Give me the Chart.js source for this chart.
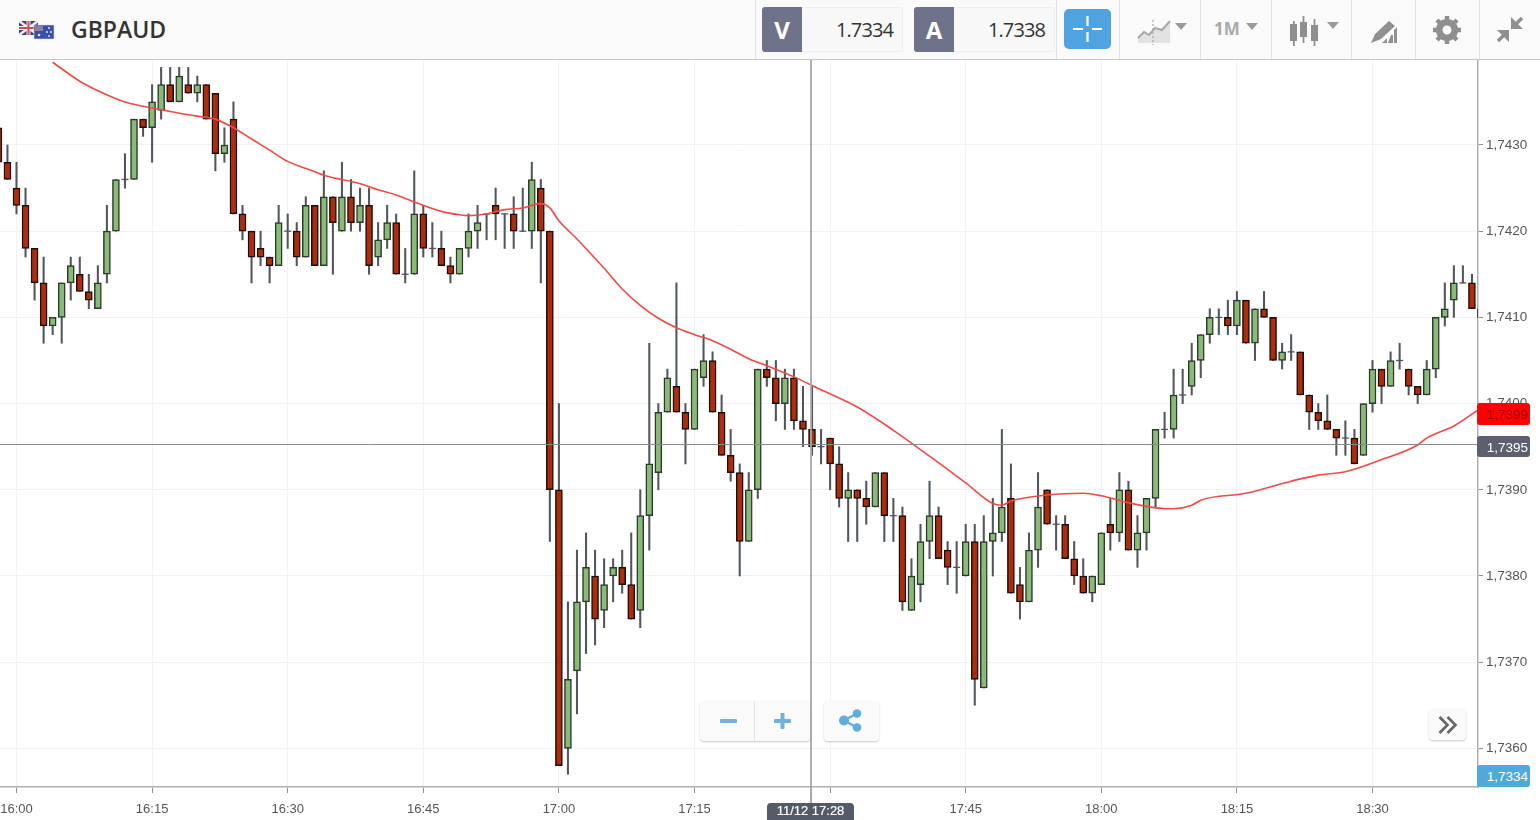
<!DOCTYPE html>
<html><head><meta charset="utf-8">
<script src="https://cdn.jsdelivr.net/npm/chart.js@4"></script>
<style>
html,body{margin:0;padding:0;width:1540px;height:820px;overflow:hidden;background:#fff;font-family:"Liberation Sans",Arial,sans-serif}
#bar{position:absolute;left:0;top:0;width:1540px;height:59px;background:#fafafa;border-bottom:1px solid #c8c8c8}
canvas{position:absolute;left:0;top:60px}
.abs{position:absolute}
.sep{position:absolute;top:0;width:1px;height:59px;background:#e4e4e4}
.letter{position:absolute;top:7px;width:40px;height:45px;background:#6e7389;color:#fff;font:bold 24px "Open Sans";text-align:center;line-height:45px;border-radius:3px 0 0 3px}
.val{position:absolute;top:7px;width:100px;height:43px;background:#f8f8f8;border:1px solid #eeeeee;border-left:0;border-radius:0 3px 3px 0;color:#333;font:20px "Open Sans";letter-spacing:-.9px;text-align:right;line-height:43px}
.tag{position:absolute;left:1477px;width:53px;font:13.5px "Liberation Sans";text-align:right;border-radius:3px;padding-right:0}
.tag span{position:relative;right:2px}
.btn{position:absolute;background:#fafafa;border-radius:4px;box-shadow:0 1px 2px rgba(0,0,0,.22)}
</style></head><body>
<div id="bar">
<svg class="abs" style="left:17px;top:19px" width="40" height="23" viewBox="0 0 40 23">
<rect x="2" y="2" width="19" height="14" fill="#39407c"/><path d="M2 2L21 16M21 2L2 16" stroke="#eee" stroke-width="2.6"/><path d="M11.5 2V16M2 9H21" stroke="#eee" stroke-width="4"/><path d="M11.5 2V16M2 9H21" stroke="#cf4a5a" stroke-width="2"/>
<rect x="17" y="6" width="20" height="14" fill="#3a4fa8" stroke="#d8dbe8" stroke-width=".6"/><path d="M18 7h8v5h-8z" fill="#8d7f9f"/><g fill="#e8ecf8"><circle cx="22" cy="16" r="1.3"/><circle cx="32" cy="9" r=".9"/><circle cx="34" cy="13" r=".9"/><circle cx="30" cy="13" r=".9"/><circle cx="32" cy="17" r=".9"/></g></svg>
<div class="abs" style="left:71px;top:13px;font:600 23px 'Open Sans';color:#333;line-height:32px">GBPAUD</div>
<div class="sep" style="left:755px"></div>
<div class="letter" style="left:762px">V</div><div class="val" style="left:802px"><span style="margin-right:9px">1.7334</span></div>
<div class="letter" style="left:914px">A</div><div class="val" style="left:954px"><span style="margin-right:9px">1.7338</span></div>
<div class="sep" style="left:1056px"></div>
<svg class="abs" style="left:1064px;top:9px" width="47" height="40"><rect width="47" height="40" rx="5" fill="#4fa3e0"/><path d="M23.5 7v10M23.5 23v10M9 20h10M28 20h10" stroke="#fff" stroke-width="2.2"/></svg>
<div class="sep" style="left:1119px"></div>
<svg class="abs" style="left:1135px;top:16px" width="56" height="30"><path d="M3 21l6-5 5 3 6-6 7 2 8-9v21H3z" fill="#e2e2e2"/><path d="M3 22l6-6 5 3 6-7 7 2 8-9" stroke="#a8a8a8" fill="none" stroke-width="2"/><path d="M18 4v25" stroke="#999" stroke-dasharray="2 2"/><path d="M40 7h12l-6 7z" fill="#9a9a9a"/></svg>
<div class="sep" style="left:1200px"></div>
<div class="abs" style="left:1214px;top:17px;font:bold 17px 'Open Sans';color:#aaa;line-height:24px">1M</div>
<svg class="abs" style="left:1245px;top:22px" width="14" height="9"><path d="M1 1h12l-6 7z" fill="#9a9a9a"/></svg>
<div class="sep" style="left:1271px"></div>
<svg class="abs" style="left:1288px;top:15px" width="54" height="32" fill="#8f8f8f"><rect x="2" y="9" width="7" height="17"/><rect x="5" y="6" width="1.8" height="25"/><rect x="12" y="7" width="7" height="15"/><rect x="14.6" y="1" width="1.8" height="27"/><rect x="23" y="10" width="7" height="16"/><rect x="25.6" y="4" width="1.8" height="27"/><path d="M39 7h12l-6 7z" fill="#9a9a9a"/></svg>
<div class="sep" style="left:1351px"></div>
<svg class="abs" style="left:1370px;top:19px" width="28" height="26" fill="#909090"><path d="M1 24l4-9L19 2l6 5L11 20z"/><path d="M12 24l5-5v5zM18 24l3-8 2 0v8zM24 24v-13l3-3v16z"/></svg>
<div class="sep" style="left:1415px"></div>
<svg class="abs" style="left:1433px;top:16px" width="28" height="28"><circle cx="14" cy="14" r="7.8" fill="none" stroke="#8f8f8f" stroke-width="6.6"/><path d="M14 0v5M14 23v5M0 14h5M23 14h5M4 4l4 4M20 20l4 4M24 4l-4 4M8 20l-4 4" stroke="#8f8f8f" stroke-width="4.4"/></svg>
<div class="sep" style="left:1479px"></div>
<svg class="abs" style="left:1495px;top:15px" width="30" height="30" fill="#8f8f8f" stroke-width="3.4" stroke="#8f8f8f"><path d="M16 2V14H28Z" stroke="none"/><path d="M20 10L27 3"/><path d="M14 15V27L2 15Z" stroke="none"/><path d="M10 19L3 26"/></svg>
</div>
<canvas id="c" width="1540" height="760"></canvas>
<div class="abs" style="left:810px;top:787px;width:2px;height:17px;background:#a8a8a8"></div>
<div class="btn" style="left:700px;top:701px;width:110px;height:40px"></div>
<div class="abs" style="left:754px;top:701px;width:1px;height:40px;background:#e2e2e2"></div>
<svg class="abs" style="left:719px;top:711px" width="72" height="20" fill="#6fb3dc"><rect x="1" y="8" width="17" height="4" rx="1"/><rect x="55" y="8" width="17" height="4" rx="1"/><rect x="61.5" y="2" width="4" height="16" rx="1"/></svg>
<div class="btn" style="left:824px;top:701px;width:55px;height:40px"></div>
<svg class="abs" style="left:838px;top:708px" width="26" height="25" fill="#5faedb"><circle cx="6" cy="12.5" r="5"/><circle cx="19" cy="5.5" r="4.3"/><circle cx="19" cy="19.5" r="4.3"/><path d="M6 12.5L19 5.5M6 12.5L19 19.5" stroke="#5faedb" stroke-width="2"/></svg>
<div class="btn" style="left:1429px;top:709px;width:37px;height:31px"></div>
<svg class="abs" style="left:1438px;top:715px" width="20" height="20" fill="none" stroke="#666" stroke-width="2.6"><path d="M1.5 2l8 8-8 8M9.5 2l8 8-8 8"/></svg>
<div class="tag" style="top:403px;height:22px;line-height:23px;background:#ff0000;color:#a00000"><span>1,7399</span></div>
<div class="tag" style="top:436px;height:21px;line-height:24px;background:#5b5f6e;color:#fff"><span>1,7395</span></div>
<div class="tag" style="top:765px;height:22px;line-height:24px;background:#4faad9;color:#fff"><span>1,7334</span></div>
<div class="abs" style="left:767px;top:803px;width:87px;height:17px;line-height:18px;background:#555a68;color:#fff;font:13px 'Liberation Sans';text-align:center;border-radius:4px 4px 0 0;-webkit-text-stroke:.2px #fff">11/12 17:28</div>
<script>
const firstMinute = -2;
const opens = [1.7432,1.7428,1.7425,1.7423,1.7418,1.7414,1.7409,1.7410,1.7414,1.7415,1.7413,1.7411,1.7415,1.7420,1.7426,1.7426,1.7433,1.7432,1.7434,1.7437,1.7435,1.7437,1.7436,1.7437,1.7436,1.7429,1.7433,1.7422,1.7420,1.7418,1.7417,1.7416,1.7420,1.7420,1.7417,1.7423,1.7416,1.7424,1.7420,1.7424,1.7421,1.7423,1.7417,1.7419,1.7421,1.7415,1.7415,1.7422,1.7418,1.7418,1.7416,1.7415,1.7418,1.7420,1.7422,1.7423,1.7422,1.7422,1.7420,1.7420,1.7425,1.7420,1.7390,1.7360,1.7369,1.7377,1.7380,1.7376,1.7380,1.7381,1.7379,1.7376,1.7387,1.7392,1.7399,1.7402,1.7399,1.7397,1.7403,1.7405,1.7399,1.7394,1.7392,1.7384,1.7390,1.7404,1.7403,1.7400,1.7403,1.7398,1.7397,1.7395,1.7396,1.7393,1.7389,1.7390,1.7389,1.7388,1.7392,1.7387,1.7387,1.7376,1.7379,1.7384,1.7387,1.7383,1.7381,1.7380,1.7384,1.7367,1.7384,1.7385,1.7389,1.7379,1.7377,1.7383,1.7390,1.7386,1.7386,1.7382,1.7380,1.7378,1.7379,1.7386,1.7385,1.7390,1.7383,1.7385,1.7389,1.7397,1.7397,1.7401,1.7402,1.7405,1.7408,1.7410,1.7410,1.7409,1.7412,1.7407,1.7411,1.7410,1.7405,1.7406,1.7406,1.7401,1.7399,1.7398,1.7397,1.7396,1.7396,1.7394,1.7400,1.7404,1.7402,1.7405,1.7404,1.7402,1.7401,1.7404,1.7410,1.7412,1.7414,1.7414,1.7411];
const highs = [1.7432,1.7430,1.7428,1.7425,1.7418,1.7417,1.7410,1.7414,1.7417,1.7417,1.7415,1.7416,1.7423,1.7426,1.7429,1.7433,1.7433,1.7437,1.7439,1.7439,1.7439,1.7439,1.7438,1.7437,1.7436,1.7432,1.7435,1.7423,1.7420,1.7420,1.7417,1.7423,1.7422,1.7421,1.7424,1.7423,1.7427,1.7424,1.7428,1.7426,1.7425,1.7425,1.7421,1.7423,1.7422,1.7418,1.7427,1.7423,1.7421,1.7420,1.7417,1.7418,1.7422,1.7423,1.7422,1.7425,1.7422,1.7424,1.7425,1.7428,1.7426,1.7420,1.7400,1.7377,1.7383,1.7385,1.7383,1.7382,1.7382,1.7383,1.7385,1.7390,1.7407,1.7400,1.7404,1.7414,1.7400,1.7404,1.7408,1.7406,1.7401,1.7397,1.7393,1.7392,1.7404,1.7405,1.7405,1.7404,1.7404,1.7402,1.7402,1.7397,1.7396,1.7395,1.7392,1.7390,1.7391,1.7392,1.7392,1.7389,1.7388,1.7382,1.7386,1.7391,1.7388,1.7384,1.7384,1.7386,1.7386,1.7387,1.7389,1.7397,1.7393,1.7381,1.7385,1.7392,1.7390,1.7387,1.7387,1.7384,1.7382,1.7380,1.7385,1.7389,1.7392,1.7391,1.7387,1.7389,1.7397,1.7399,1.7404,1.7404,1.7407,1.7408,1.7411,1.7411,1.7412,1.7413,1.7412,1.7411,1.7413,1.7410,1.7407,1.7408,1.7406,1.7401,1.7400,1.7401,1.7397,1.7398,1.7397,1.7400,1.7405,1.7404,1.7406,1.7407,1.7404,1.7402,1.7405,1.7410,1.7414,1.7416,1.7416,1.7415,1.7411];
const lows = [1.7428,1.7426,1.7422,1.7417,1.7412,1.7407,1.7408,1.7407,1.7412,1.7413,1.7411,1.7411,1.7414,1.7420,1.7425,1.7426,1.7431,1.7428,1.7433,1.7435,1.7435,1.7436,1.7435,1.7433,1.7427,1.7428,1.7422,1.7419,1.7414,1.7416,1.7414,1.7416,1.7418,1.7416,1.7417,1.7416,1.7416,1.7415,1.7420,1.7420,1.7420,1.7415,1.7416,1.7418,1.7415,1.7414,1.7415,1.7417,1.7417,1.7416,1.7414,1.7415,1.7417,1.7418,1.7419,1.7419,1.7418,1.7418,1.7420,1.7418,1.7414,1.7384,1.7358,1.7357,1.7364,1.7371,1.7372,1.7374,1.7377,1.7378,1.7375,1.7374,1.7383,1.7390,1.7399,1.7399,1.7393,1.7397,1.7402,1.7399,1.7394,1.7391,1.7380,1.7384,1.7389,1.7402,1.7398,1.7397,1.7397,1.7395,1.7394,1.7393,1.7390,1.7388,1.7384,1.7384,1.7386,1.7388,1.7384,1.7384,1.7376,1.7376,1.7377,1.7382,1.7382,1.7379,1.7378,1.7380,1.7365,1.7367,1.7380,1.7384,1.7378,1.7375,1.7377,1.7381,1.7386,1.7383,1.7382,1.7379,1.7378,1.7377,1.7379,1.7383,1.7384,1.7383,1.7381,1.7383,1.7388,1.7396,1.7396,1.7400,1.7401,1.7403,1.7407,1.7408,1.7408,1.7408,1.7407,1.7405,1.7410,1.7405,1.7404,1.7405,1.7401,1.7397,1.7397,1.7397,1.7394,1.7394,1.7393,1.7394,1.7399,1.7400,1.7402,1.7404,1.7401,1.7400,1.7401,1.7403,1.7409,1.7410,1.7414,1.7411,1.7409];
const closes = [1.7428,1.7426,1.7423,1.7418,1.7414,1.7409,1.7410,1.7414,1.7416,1.7413,1.7412,1.7414,1.7420,1.7426,1.7426,1.7433,1.7432,1.7435,1.7437,1.7435,1.7438,1.7436,1.7437,1.7433,1.7429,1.7430,1.7422,1.7420,1.7417,1.7417,1.7416,1.7421,1.7420,1.7417,1.7423,1.7416,1.7424,1.7421,1.7424,1.7421,1.7423,1.7416,1.7419,1.7421,1.7415,1.7415,1.7422,1.7418,1.7418,1.7416,1.7415,1.7418,1.7420,1.7421,1.7422,1.7422,1.7422,1.7420,1.7420,1.7426,1.7420,1.7390,1.7358,1.7368,1.7377,1.7381,1.7375,1.7379,1.7381,1.7379,1.7375,1.7387,1.7393,1.7399,1.7403,1.7399,1.7397,1.7404,1.7405,1.7399,1.7394,1.7392,1.7384,1.7390,1.7404,1.7403,1.7400,1.7403,1.7398,1.7397,1.7395,1.7395,1.7393,1.7389,1.7390,1.7389,1.7388,1.7392,1.7387,1.7387,1.7377,1.7380,1.7384,1.7387,1.7382,1.7381,1.7381,1.7384,1.7368,1.7384,1.7385,1.7388,1.7378,1.7377,1.7383,1.7388,1.7386,1.7386,1.7382,1.7380,1.7378,1.7380,1.7385,1.7385,1.7390,1.7383,1.7385,1.7389,1.7397,1.7397,1.7401,1.7401,1.7405,1.7408,1.7410,1.7410,1.7409,1.7412,1.7407,1.7411,1.7410,1.7405,1.7406,1.7406,1.7401,1.7399,1.7398,1.7397,1.7396,1.7396,1.7393,1.7400,1.7404,1.7402,1.7405,1.7405,1.7402,1.7401,1.7404,1.7410,1.7411,1.7414,1.7414,1.7411,1.7410];
const emaMinutes = [4,7,9,12,14,16,19,21,22,24,26,28,30,33,34,38,40,42,44,47,49,50,52,54,56,58,59,60,62,65,67,69,71,73,75,77,79,81,83,86,89,93,97,101,105,108,109,110,114,118,120,123,126,128,130,131,136,141,144,147,151,155,156,159,162];
const emaValues = [1.74396,1.74374,1.74363,1.74350,1.74345,1.74341,1.74335,1.74332,1.74330,1.74320,1.74307,1.74294,1.74281,1.74269,1.74265,1.74255,1.74248,1.74242,1.74234,1.74223,1.74219,1.74218,1.74220,1.74225,1.74227,1.74232,1.74227,1.74212,1.74191,1.74157,1.74133,1.74114,1.74099,1.74088,1.74080,1.74073,1.74063,1.74052,1.74044,1.74031,1.74016,1.73996,1.73969,1.73939,1.73908,1.73884,1.73882,1.73887,1.73894,1.73896,1.73893,1.73885,1.73879,1.73878,1.73882,1.73888,1.73896,1.73910,1.73917,1.73921,1.73935,1.73952,1.73960,1.73974,1.73995];
const xTickMinutes = [0,15,30,45,60,75,90,105,120,135,150];
const xTickLabels = ["16:00","16:15","16:30","16:45","17:00","17:15","17:30","17:45","18:00","18:15","18:30"];
const yTickValues = [1.7360,1.7370,1.7380,1.7390,1.7400,1.7410,1.7420,1.7430];
const crosshairMinute = 87.89;
const crosshairPrice = 1.739525;

const minuteOf = i => firstMinute + i;
const wicks = opens.map((_, i) => ({x: minuteOf(i), y: [lows[i], highs[i]]}));
const bodies = opens.map((o, i) => ({x: minuteOf(i), y: [o, closes[i]]}));
const dojis = opens.map((o, i) => ({x: minuteOf(i), y: o, flat: o === closes[i]})).filter(d => d.flat);
const ema = emaMinutes.map((m, i) => ({x: m, y: emaValues[i]}));
const isUp = i => closes[i] >= opens[i];
const noPad = s => { s.paddingLeft = 0; s.paddingRight = 0; s.paddingTop = 0; s.paddingBottom = 0; };

const xMin = -1.825, xMax = 161.67, yMin = 1.735552, yMax = 1.743986;
new Chart(document.getElementById('c'), {
  type: 'bar',
  data: {datasets: [
    {label:'wicks', data: wicks, order: 5, grouped:false, barThickness: 1.4, backgroundColor:'#50565c', borderWidth:0},
    {label:'dojis', type:'line', data: dojis, order: 4, showLine:false, pointStyle:'line', pointRadius:3.5, pointBorderColor:'#50565c', pointBorderWidth:1.3},
    {label:'bodies', data: bodies, order: 3, grouped:false, barThickness: 7,
      backgroundColor: c => isUp(c.dataIndex) ? '#8ab97a' : '#ab2d0d',
      borderColor: c => isUp(c.dataIndex) ? '#2b3a2a' : '#1c0e08',
      borderWidth: 1.5, borderSkipped:false},
    {label:'EMA', type:'line', data: ema, order: 2, borderColor:'#ef4a4a', borderWidth:1.6, pointRadius:0, cubicInterpolationMode:'monotone'},
    {label:'crossV', type:'line', data:[{x:crosshairMinute,y:yMin},{x:crosshairMinute,y:yMax}], order:1, borderColor:'#a8a8a8', borderWidth:1.8, pointRadius:0},
    {label:'crossH', type:'line', data:[{x:xMin,y:crosshairPrice},{x:xMax,y:crosshairPrice}], order:1, borderColor:'#8a8a8a', borderWidth:1, pointRadius:0}
  ]},
  options: {
    responsive:false, animation:false, devicePixelRatio:1,
    layout:{padding:0, autoPadding:false},
    plugins:{legend:{display:false}, tooltip:{enabled:false}},
    scales:{
      x:{type:'linear', min:xMin, max:xMax, offset:false,
        grid:{offset:false, color:'#f2f2f2', tickColor:'#8f8f8f', tickLength:6, lineWidth:1},
        border:{color:'#b0b0b0', width:1.5},
        afterFit:s=>{s.height=33; noPad(s)},
        afterBuildTicks:s=>{s.ticks=xTickMinutes.map(v=>({value:v}))},
        ticks:{autoSkip:false, maxRotation:0, padding:9, color:'#555', font:{family:'Liberation Sans',size:13},
          callback:v=>xTickLabels[xTickMinutes.indexOf(v)]}},
      y:{position:'right', min:yMin, max:yMax, beginAtZero:false,
        grid:{color:'#f2f2f2', tickColor:'#8f8f8f', tickLength:5, lineWidth:1},
        border:{color:'#b0b0b0', width:1.5},
        afterFit:s=>{s.width=62; noPad(s)},
        afterBuildTicks:s=>{s.ticks=yTickValues.map(v=>({value:v}))},
        ticks:{padding:3, color:'#555', font:{family:'Liberation Sans',size:13.5},
          callback:v=>v.toFixed(4).replace('.',',')}}
    }
  }
});
</script>
</body></html>
